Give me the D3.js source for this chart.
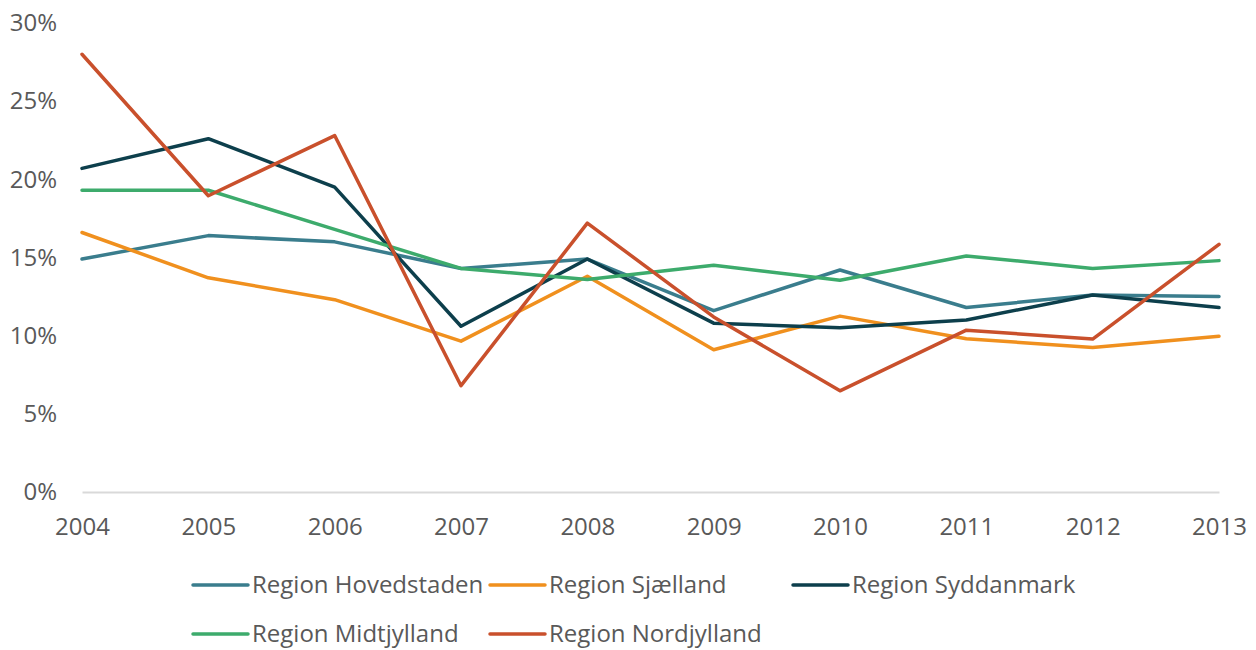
<!DOCTYPE html>
<html>
<head>
<meta charset="utf-8">
<script src="https://cdn.jsdelivr.net/npm/d3@7"></script>
<style>
  body { margin: 0; background: #fff; }
  text { font-family: "Open Sans", sans-serif; fill: #595959; }
</style>
</head>
<body>
<svg id="chart" width="1256" height="650"></svg>
<script>
// data
var years = [2004, 2005, 2006, 2007, 2008, 2009, 2010, 2011, 2012, 2013];
var hovedstaden = [14.9, 16.4, 16.0, 14.3, 14.9, 11.6, 14.2, 11.8, 12.6, 12.5];
var sjaelland   = [16.6, 13.7, 12.3, 9.65, 13.8, 9.1, 11.25, 9.8, 9.25, 9.97];
var syddanmark  = [20.7, 22.6, 19.5, 10.6, 14.9, 10.8, 10.5, 11.0, 12.6, 11.8];
var midtjylland = [19.3, 19.3, 16.8, 14.3, 13.6, 14.5, 13.55, 15.1, 14.3, 14.8];
var nordjylland = [28.0, 18.95, 22.8, 6.8, 17.2, 11.2, 6.47, 10.35, 9.78, 15.84];
var yTicks = [0, 5, 10, 15, 20, 25, 30];

var series = [
  { name: 'Region Hovedstaden', values: hovedstaden, color: '#3A7D8D' },
  { name: 'Region Sjælland',    values: sjaelland,   color: '#F0901E' },
  { name: 'Region Syddanmark',  values: syddanmark,  color: '#0D3F4C' },
  { name: 'Region Midtjylland', values: midtjylland, color: '#3DAB6C' },
  { name: 'Region Nordjylland', values: nordjylland, color: '#C9502C' }
];

var svg = d3.select('#chart');
var plotLeft = 82, plotRight = 1219, plotTop = 23, plotBottom = 492;
var fontSize = 24;

var x = d3.scalePoint().domain(years).range([plotLeft, plotRight]);
var y = d3.scaleLinear().domain([0, 30]).range([plotBottom, plotTop]);

// y axis labels
var yAxis = d3.axisLeft(y).tickValues(yTicks).tickSize(0).tickPadding(0)
  .tickFormat(function(d) { return d + '%'; });
svg.append('g')
  .attr('transform', 'translate(57,0)')
  .call(yAxis)
  .call(function(g) { g.select('.domain').remove(); })
  .selectAll('text')
    .attr('font-size', fontSize)
    .attr('font-family', '"Open Sans", sans-serif')
    .attr('fill', '#595959');

// x axis
var xAxis = d3.axisBottom(x).tickSize(0).tickPadding(26);
var gx = svg.append('g')
  .attr('transform', 'translate(0,' + plotBottom + ')')
  .call(xAxis);
gx.select('.domain').attr('stroke', '#D9D9D9').attr('stroke-width', 2);
gx.selectAll('text')
  .attr('font-size', fontSize)
  .attr('font-family', '"Open Sans", sans-serif')
  .attr('fill', '#595959');

// lines
var line = d3.line()
  .x(function(d, i) { return x(years[i]); })
  .y(function(d) { return y(d); });

series.forEach(function(s) {
  svg.append('path')
    .datum(s.values)
    .attr('d', line)
    .attr('fill', 'none')
    .attr('stroke', s.color)
    .attr('stroke-width', 3.5)
    .attr('stroke-linejoin', 'round')
    .attr('stroke-linecap', 'round');
});

// legend
var legendCols = [193, 490, 793];
var legendRows = [585, 634];
series.forEach(function(s, i) {
  var lx = legendCols[i % 3];
  var ly = legendRows[Math.floor(i / 3)];
  var g = svg.append('g').attr('transform', 'translate(' + lx + ',' + ly + ')');
  g.append('line')
    .attr('x1', 0).attr('x2', 55)
    .attr('y1', 0).attr('y2', 0)
    .attr('stroke', s.color)
    .attr('stroke-width', 3.5)
    .attr('stroke-linecap', 'round');
  g.append('text')
    .attr('x', 59)
    .attr('y', 0)
    .attr('dy', '0.35em')
    .attr('font-size', fontSize)
    .text(s.name);
});
</script>
</body>
</html>
